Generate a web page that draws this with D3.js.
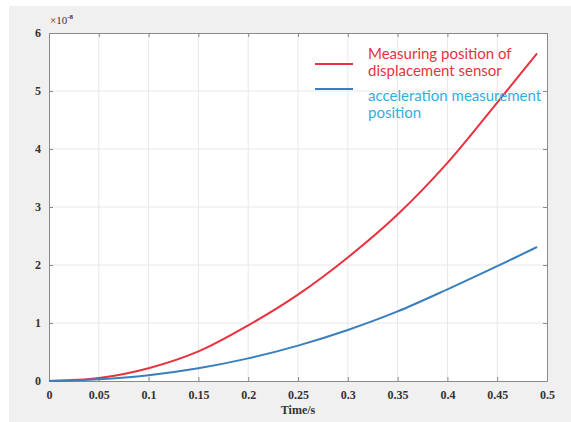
<!DOCTYPE html>
<html>
<head>
<meta charset="utf-8">
<script src="https://cdn.jsdelivr.net/npm/d3@7"></script>
<style>
  html, body { margin: 0; padding: 0; background: #ffffff; }
  svg { display: block; }
</style>
</head>
<body>
<svg id="chart" width="571" height="422"></svg>
<script>
// Time samples (s)
const time = [0, 0.05, 0.1, 0.15, 0.2, 0.25, 0.3, 0.35, 0.4, 0.45, 0.49];
// Displacement (×10^-8) at the displacement sensor position
const displacementSensor = [0, 0.05, 0.22, 0.51, 0.96, 1.49, 2.13, 2.87, 3.76, 4.80, 5.65];
// Displacement (×10^-8) at the acceleration measurement position
const accelerationPosition = [0, 0.03, 0.10, 0.22, 0.39, 0.61, 0.88, 1.20, 1.58, 1.98, 2.31];
const xTicks = [0, 0.05, 0.1, 0.15, 0.2, 0.25, 0.3, 0.35, 0.4, 0.45, 0.5];
const yTicks = [0, 1, 2, 3, 4, 5, 6];
const seriesNames = [["Measuring position of", "displacement sensor"],
                     ["acceleration measurement", "position"]];

const svg = d3.select("#chart");
const W = 571, H = 422;
const margin = { left: 49, top: 33, right: W - 547, bottom: H - 381 };
const pw = W - margin.left - margin.right;
const ph = H - margin.top - margin.bottom;

// figure background
svg.append("rect").attr("x", 9).attr("y", 6).attr("width", W - 9).attr("height", H - 6)
  .attr("fill", "#f0f0f0");

const x = d3.scaleLinear().domain([0, 0.5]).range([0, pw]);
const y = d3.scaleLinear().domain([0, 6]).range([ph, 0]);

const g = svg.append("g").attr("transform", `translate(${margin.left},${margin.top})`);
g.append("rect").attr("width", pw).attr("height", ph).attr("fill", "#ffffff");

// grid
g.append("g").selectAll("line").data(xTicks.slice(1, -1)).join("line")
  .attr("x1", d => x(d)).attr("x2", d => x(d)).attr("y1", 0).attr("y2", ph)
  .attr("stroke", "#e8e8e8").attr("stroke-width", 1);
g.append("g").selectAll("line").data(yTicks.slice(1, -1)).join("line")
  .attr("y1", d => y(d)).attr("y2", d => y(d)).attr("x1", 0).attr("x2", pw)
  .attr("stroke", "#e8e8e8").attr("stroke-width", 1);

// axes with inward ticks
const fontTick = "'Liberation Serif', 'Times New Roman', serif";
const xAxis = g.append("g").attr("transform", `translate(0,${ph})`)
  .call(d3.axisBottom(x).tickValues(xTicks).tickFormat(d => d3.format("")(d)).tickSizeInner(-4).tickSizeOuter(0).tickPadding(9));
const yAxis = g.append("g")
  .call(d3.axisLeft(y).tickValues(yTicks).tickFormat(d3.format("d")).tickSizeInner(-4).tickSizeOuter(0).tickPadding(8));
const xAxisTop = g.append("g")
  .call(d3.axisTop(x).tickValues(xTicks).tickFormat("").tickSizeInner(-4).tickSizeOuter(0));
const yAxisRight = g.append("g").attr("transform", `translate(${pw},0)`)
  .call(d3.axisRight(y).tickValues(yTicks).tickFormat("").tickSizeInner(-4).tickSizeOuter(0));
[xAxis, yAxis, xAxisTop, yAxisRight].forEach(a => {
  a.select(".domain").attr("stroke", "#8a8a8a");
  a.selectAll(".tick line").attr("stroke", "#8a8a8a");
  a.selectAll("text").attr("font-family", fontTick).attr("font-weight", "bold")
    .attr("font-size", 12).attr("fill", "#333333");
});

// exponent label
const expo = svg.append("text").attr("x", 50).attr("y", 24)
  .attr("font-family", fontTick).attr("font-size", 11).attr("fill", "#333333");
expo.append("tspan").text("×10");
expo.append("tspan").attr("dy", -5).attr("font-size", 7).attr("font-weight", "bold").text("-8");

// x-axis title
svg.append("text").attr("x", margin.left + pw / 2).attr("y", 414)
  .attr("text-anchor", "middle").attr("font-family", fontTick).attr("font-weight", "bold")
  .attr("font-size", 12).attr("fill", "#333333").text("Time/s");

// curves
const line = d3.line().x((d, i) => x(time[i])).y(d => y(d)).curve(d3.curveCatmullRom.alpha(0.5));
const colors = ["#e8323f", "#3a7fbd"];
const textColors = ["#e8323f", "#36aede"];
[displacementSensor, accelerationPosition].forEach((s, k) => {
  g.append("path").datum(s).attr("d", line).attr("fill", "none")
    .attr("stroke", colors[k]).attr("stroke-width", 2);
});

// legend
const legFont = "Lato, 'Open Sans', sans-serif";
const leg = svg.append("g");
const legY = [64, 89];
const legBase = [[59, 76], [101, 118]];
seriesNames.forEach((lines, k) => {
  leg.append("line").attr("x1", 315).attr("x2", 353).attr("y1", legY[k]).attr("y2", legY[k])
    .attr("stroke", colors[k]).attr("stroke-width", 2);
  lines.forEach((t, j) => {
    leg.append("text").attr("x", 368).attr("y", legBase[k][j])
      .attr("font-family", legFont).attr("font-size", 15).attr("fill", textColors[k]).text(t);
  });
});
</script>
</body>
</html>
